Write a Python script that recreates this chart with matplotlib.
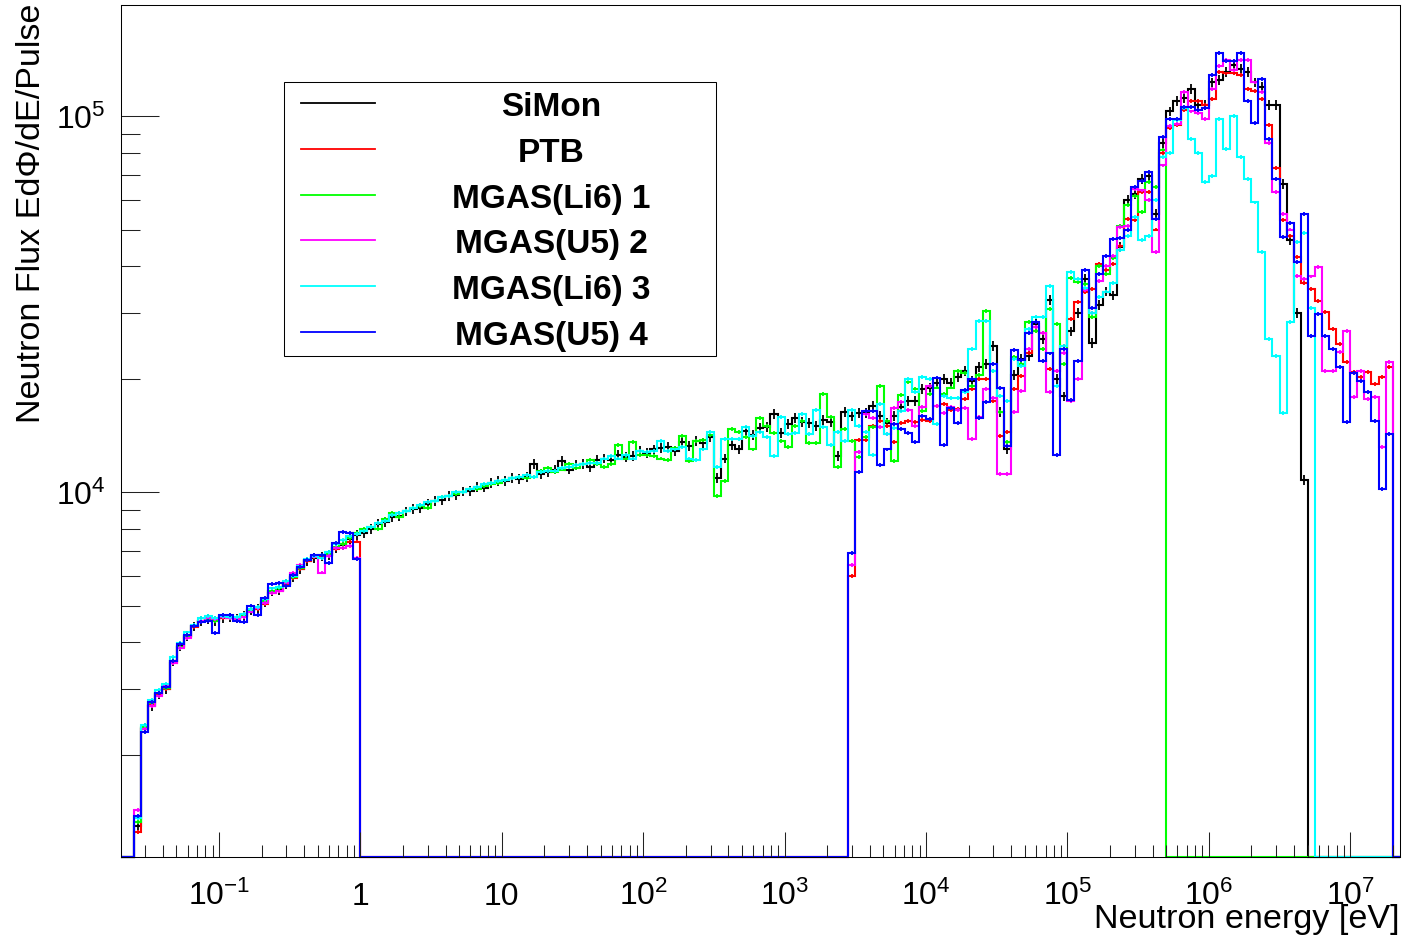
import numpy as np
import matplotlib
matplotlib.use("Agg")
import matplotlib.pyplot as plt
from matplotlib.ticker import FixedLocator, FixedFormatter, LogLocator, NullFormatter
from matplotlib.patches import Rectangle
from matplotlib.lines import Line2D

plt.rcParams["font.family"] = ["Liberation Sans", "DejaVu Sans"]
plt.rcParams["mathtext.fontset"] = "custom"
plt.rcParams["mathtext.rm"] = "Liberation Sans"
plt.rcParams["mathtext.it"] = "Liberation Sans:italic"
plt.rcParams["mathtext.bf"] = "Liberation Sans:bold"

# ── binning: 20 bins / decade, first edge at 10^-1.6 eV ───────────────
LOG_E_FIRST = -1.6
BINS_PER_DECADE = 20
N_BINS = 179

# ── flux values in units of 1e3 ───────────────────────────────────────
# thermal part, bins 0-31 (0.025 eV - 1 eV)
simon_th = [1.30, 2.36, 2.70, 2.90, 3.00, 3.55, 3.90, 4.15, 4.40, 4.55,
            4.60, 4.55, 4.62, 4.65, 4.62, 4.70, 4.85, 4.90, 5.10, 5.45,
            5.50, 5.70, 5.95, 6.25, 6.55, 6.70, 6.75, 6.80, 7.10, 7.25,
            7.50, 7.70]
ptb_th = [1.25, 2.35, 2.72, 2.90, 3.00, 3.52, 3.88, 4.12, 4.38, 4.55,
          4.62, 4.58, 4.62, 4.62, 4.60, 4.68, 4.82, 4.90, 5.05, 5.40,
          5.45, 5.72, 5.92, 6.25, 6.55, 6.72, 6.75, 6.80, 7.05, 7.30,
          7.40, 7.40]
li6_1_th = [1.33, 2.38, 2.75, 2.92, 3.02, 3.56, 3.88, 4.15, 4.42, 4.55,
            4.60, 4.56, 4.65, 4.62, 4.64, 4.72, 4.85, 4.92, 5.15, 5.48,
            5.55, 5.75, 5.95, 6.30, 6.60, 6.78, 6.80, 6.85, 7.15, 7.30,
            7.55, 7.80]
u5_2_th = [1.43, 2.35, 2.70, 2.88, 3.05, 3.52, 3.85, 4.10, 4.42, 4.55,
           4.62, 4.60, 4.66, 4.64, 4.60, 4.66, 4.82, 4.92, 5.08, 5.40,
           5.45, 5.75, 6.10, 6.40, 6.60, 6.75, 6.12, 6.78, 7.10, 7.10,
           7.20, 6.70]
li6_3_th = [1.36, 2.40, 2.80, 2.98, 3.10, 3.65, 3.98, 4.24, 4.45, 4.62,
            4.70, 4.62, 4.70, 4.66, 4.65, 4.75, 4.90, 4.95, 5.20, 5.55,
            5.60, 5.80, 6.00, 6.35, 6.65, 6.78, 6.70, 6.95, 7.30, 7.45,
            7.65, 7.75]
u5_4_th = [1.38, 2.31, 2.77, 2.93, 3.04, 3.57, 3.94, 4.18, 4.42, 4.51,
           4.56, 4.23, 4.71, 4.73, 4.56, 4.51, 5.00, 4.73, 5.24, 5.69,
           5.75, 5.63, 6.02, 6.34, 6.59, 6.80, 6.80, 6.47, 7.35, 7.86,
           7.81, 6.63]

# epithermal part, bins 32-100 (1 eV - 2.8 keV), only SiMon and Li6 detectors
simon_epi = [7.8, 8.0, 8.25, 8.35, 8.6, 8.65, 8.9, 9.05, 9.1, 9.3,
             9.5, 9.55, 9.8, 9.85, 10.05, 10.1, 10.35, 10.3, 10.6, 10.7,
             10.7, 10.9, 10.85, 11.0, 11.9, 11.2, 11.3, 11.5, 12.1, 11.5,
             11.8, 11.9, 11.7, 12.2, 12.3, 12.2, 12.6, 12.4, 12.5, 12.9,
             12.7, 13.0, 13.1, 13.2, 12.9, 13.6, 13.3, 13.7, 13.5, 14.0,
             10.9, 12.3, 13.4, 13.0, 14.6, 14.2, 14.8, 14.9, 16.2, 14.4,
             15.2, 15.8, 15.4, 15.3, 15.0, 15.6, 15.4, 12.5, 16.4]
li6_1_epi = [8.0, 8.1, 8.0, 8.5, 8.8, 8.6, 8.9, 9.1, 9.2, 9.1,
             9.5, 9.7, 9.8, 9.9, 10.0, 10.2, 10.2, 10.4, 10.5, 10.6,
             10.8, 10.9, 11.0, 10.9, 11.0, 11.4, 11.6, 11.3, 11.5, 11.9,
             11.6, 11.9, 12.2, 11.9, 11.7, 11.9, 13.4, 12.3, 13.6, 12.6,
             12.6, 12.5, 12.3, 12.2, 13.1, 14.1, 12.1, 13.7, 13.8, 14.2,
             9.8, 10.7, 14.7, 14.5, 14.0, 13.0, 15.8, 15.0, 14.4, 13.7,
             13.2, 15.0, 15.5, 13.5, 13.5, 18.3, 15.9, 11.7, 14.7]
li6_3_epi = [7.9, 8.1, 8.3, 8.4, 8.7, 8.8, 8.9, 9.1, 9.25, 9.4,
             9.5, 9.7, 9.8, 10.0, 10.0, 10.2, 10.35, 10.5, 10.6, 10.7,
             10.8, 10.9, 11.0, 11.1, 11.0, 11.3, 11.4, 11.4, 11.6, 11.7,
             11.8, 11.9, 12.0, 12.0, 12.3, 12.5, 12.3, 12.6, 12.3, 12.9,
             12.8, 12.9, 13.7, 12.9, 13.0, 13.2, 12.3, 12.2, 13.0, 14.5,
             11.7, 13.85, 13.85, 13.9, 14.9, 14.1, 14.5, 14.0, 12.5, 15.9,
             14.3, 14.4, 16.2, 14.3, 16.6, 14.9, 13.4, 14.5, 13.7]

# fast part, from bin 101 (2.8 keV) up
simon_fast = [16.0, 16.3, 16.3, 17.0, 16.0, 15.3, 16.0, 16.9, 17.5, 17.5,
              18.8, 19.0, 19.5, 20.0, 19.5, 20.3, 21.0, 19.8, 21.5, 22.0,
              24.5, 16.4, 13.0, 20.5, 22.6, 23.0, 28.0, 25.6, 32.5, 20.0,
              18.0, 26.8, 30.0, 37.0, 25.0, 31.5, 34.2, 33.4, 45.0, 60.0,
              62.0, 68.0, 69.5, 55.0, 85.0, 103, 110, 112, 118, 107,
              107, 123, 125, 131, 137, 134, 131, 123, 120, 107,
              107, 66, 47, 30, 10.8]
ptb_fast = [6.0, 13.8, 13.8, 15.0, 15.5, 15.0, 13.6, 15.3, 15.5, 15.4,
            15.6, 15.5, 17.0, 17.2, 16.6, 16.7, 17.7, 18.8, 20.0, 20.0,
            17.5, 14.1, 14.5, 18.8, 20.4, 23.5, 26.8, 26.6, 21.3, 21.0,
            24.5, 28.9, 32.0, 34.0, 34.8, 40.4, 39.0, 40.4, 45.2, 53.3,
            53.0, 62.8, 63.0, 50.0, 80.0, 93.0, 95.0, 104, 110, 110,
            107, 111, 131, 130, 130, 129, 118, 117, 111, 95,
            73, 53, 48, 42.3, 36, 34.8, 32.2, 30.1, 27.2, 24.8,
            22.2, 20.9, 20.3, 20.9, 19.4, 20.3, 21.5]
li6_1_fast = [13.7, 12.4, 14.0, 14.9, 19.2, 15.5, 12.1, 18.1, 19.6, 18.8,
              16.5, 18.3, 19.0, 18.3, 19.0, 21.0, 20.8, 19.2, 20.5, 30.3,
              21.0, 16.4, 13.6, 22.9, 22.0, 28.4, 26.9, 24.0, 30.8, 28.0,
              22.0, 37.2, 36.2, 35.8, 29.2, 40.0, 38.0, 42.0, 51.0, 58.0,
              61.5, 55.6, 66.7, 65.0, 81.6]
u5_2_fast = [6.4, 12.8, 16.2, 15.8, 14.9, 14.3, 16.8, 17.4, 16.6, 15.0,
             16.9, 19.2, 17.0, 16.3, 16.9, 16.6, 16.8, 13.9, 15.9, 18.8,
             17.8, 11.2, 11.2, 16.4, 18.6, 24.0, 27.5, 26.5, 18.5, 21.0,
             23.5, 17.5, 20.0, 34.5, 30.0, 36.5, 40.0, 42.5, 50.7, 51.0,
             64.0, 63.5, 60.0, 43.5, 74.0, 94.5, 95.5, 116, 103, 102,
             98.5, 118, 136, 141, 133, 141, 141, 123, 116, 85,
             63, 55, 50, 37.6, 37.0, 37.5, 39.8, 21.0, 21.0, 23.6,
             26.9, 17.9, 21.0, 17.7, 17.9, 13.2, 22.2]
li6_3_fast = [16.6, 15.0, 14.5, 12.6, 17.2, 14.3, 14.8, 16.5, 20.0, 18.5,
              20.3, 20.0, 15.2, 18.0, 17.8, 17.8, 18.5, 24.0, 28.5, 28.5,
              21.0, 18.0, 17.5, 22.6, 21.7, 27.2, 29.2, 29.2, 35.4, 19.2,
              24.5, 38.5, 37.0, 35.0, 30.0, 33.0, 34.2, 36.0, 44.0, 48.0,
              54.0, 47.0, 48.0, 60.0, 78.0, 80.0, 98.0, 105, 87.0, 80.0,
              67.0, 69.5, 98.5, 82.0, 100, 78.0, 68.0, 59.0, 43.5, 25.6,
              23.1, 16.3, 28.4, 46.4, 49.0, 31.0]
u5_4_fast = [6.9, 11.3, 16.5, 16.5, 11.8, 13.0, 15.2, 14.7, 14.4, 13.6,
             16.0, 15.7, 20.2, 13.4, 16.8, 15.3, 18.7, 20.0, 15.8, 17.4,
             22.0, 18.9, 13.3, 23.9, 22.5, 26.6, 28.3, 22.4, 23.4, 12.6,
             24.1, 17.6, 22.3, 39.0, 31.0, 38.0, 42.6, 47.2, 47.6, 49.8,
             64.8, 67.4, 71.0, 53.2, 88.0, 98.5, 98.5, 106, 106, 104,
             105, 129, 147, 140, 140, 147, 110, 96, 126, 87,
             68, 47.7, 52, 41, 55, 26, 29.8, 26, 24, 21.5,
             15.4, 20.8, 19.8, 18.5, 15.5, 10.2, 14.3]

FAST_START = 101

LABELS = ["SiMon", "PTB", "MGAS(Li6) 1", "MGAS(U5) 2", "MGAS(Li6) 3", "MGAS(U5) 4"]
COLORS = ["#000000", "#ff0000", "#00ff00", "#ff00ff", "#00ffff", "#0000ff"]
REL_ERR = [0.03, 0.012, 0.012, 0.012, 0.012, 0.012]

X_TICKS = [1e-1, 1, 10, 1e2, 1e3, 1e4, 1e5, 1e6, 1e7]
X_TICK_LABELS = ["$10^{-1}$", "1", "10", "$10^{2}$", "$10^{3}$", "$10^{4}$",
                 "$10^{5}$", "$10^{6}$", "$10^{7}$"]
Y_TICKS = [1e4, 1e5]
Y_TICK_LABELS = ["$10^{4}$", "$10^{5}$"]

XMIN, XMAX = 10 ** -1.693, 10 ** 7.352
YMIN, YMAX = 1072.0, 1.977e5


def fill(*segments):
    arr = np.zeros(N_BINS)
    for start, vals in segments:
        arr[start:start + len(vals)] = np.asarray(vals, dtype=float) * 1e3
    return arr


def main():
    edges = 10 ** (LOG_E_FIRST + np.arange(N_BINS + 1) / BINS_PER_DECADE)
    centers = np.sqrt(edges[:-1] * edges[1:])

    series = [
        fill((0, simon_th + simon_epi + simon_fast)),
        fill((0, ptb_th), (FAST_START, ptb_fast)),
        fill((0, li6_1_th + li6_1_epi + li6_1_fast)),
        fill((0, u5_2_th), (FAST_START, u5_2_fast)),
        fill((0, li6_3_th + li6_3_epi + li6_3_fast)),
        fill((0, u5_4_th), (FAST_START, u5_4_fast)),
    ]

    W, H = 1407, 937
    fig = plt.figure(figsize=(W / 100, H / 100), dpi=100)
    ax = fig.add_axes([121 / W, (H - 858) / H, (1400 - 121) / W, (858 - 6) / H])
    ax.set_xscale("log")
    ax.set_yscale("log")

    # histograms: empty bins are drawn on the frame bottom, like ROOT does
    ext_edges = np.concatenate([[XMIN], edges, [XMAX]])
    for vals, color, rel in zip(series, COLORS, REL_ERR):
        shown = np.concatenate([[YMIN], np.where(vals > 0, vals, YMIN), [YMIN]])
        ax.stairs(shown, ext_edges, baseline=None, color=color, lw=1.5, clip_on=False)
        ok = vals > 0
        ax.errorbar(centers[ok], vals[ok], yerr=vals[ok] * rel, fmt="none",
                    ecolor=color, elinewidth=1.3, capsize=0)

    ax.set_xlim(XMIN, XMAX)
    ax.set_ylim(YMIN, YMAX)

    ax.xaxis.set_major_locator(FixedLocator(X_TICKS))
    ax.xaxis.set_major_formatter(FixedFormatter(X_TICK_LABELS))
    ax.xaxis.set_minor_locator(LogLocator(base=10, subs=np.arange(2, 10), numticks=50))
    ax.xaxis.set_minor_formatter(NullFormatter())
    ax.yaxis.set_major_locator(FixedLocator(Y_TICKS))
    ax.yaxis.set_major_formatter(FixedFormatter(Y_TICK_LABELS))
    ax.yaxis.set_minor_locator(LogLocator(base=10, subs=np.arange(2, 10), numticks=50))
    ax.yaxis.set_minor_formatter(NullFormatter())

    ax.tick_params(axis="both", which="both", direction="in", top=False, right=False,
                   width=0.75, color="#222222", labelsize=23)
    ax.tick_params(axis="x", which="major", length=18, pad=33.5)
    ax.tick_params(axis="x", which="minor", length=8.6)
    ax.tick_params(axis="y", which="major", length=27, pad=11)
    ax.tick_params(axis="y", which="minor", length=13.7)
    for t in ax.xaxis.get_major_ticks():
        t.label1.set_verticalalignment("baseline")
    for sp in ax.spines.values():
        sp.set_linewidth(0.75)

    fig.text(32 / W, 1 - 4 / H, "Neutron Flux EdΦ/dE/Pulse", rotation=90,
             ha="center", va="top", fontsize=24.6)
    fig.text(1400 / W, (H - 928) / H, "Neutron energy [eV]", ha="right",
             va="baseline", fontsize=24.6)

    # legend box
    fig.add_artist(Rectangle((284 / W, 1 - 357 / H), (716 - 284) / W, (357 - 83) / H,
                             transform=fig.transFigure, facecolor="white",
                             edgecolor="black", lw=0.75, zorder=5))
    for k, (label, color) in enumerate(zip(LABELS, COLORS)):
        yy = 1 - (104 + 45.8 * k) / H
        fig.add_artist(Line2D([301 / W, 375 / W], [yy, yy], color=color, lw=1.3,
                              transform=fig.transFigure, zorder=6))
        fig.text(551 / W, yy, label, ha="center", va="center_baseline",
                 fontsize=24, fontweight="bold", zorder=6)

    fig.savefig("out.png", dpi=100)


if __name__ == "__main__":
    main()
